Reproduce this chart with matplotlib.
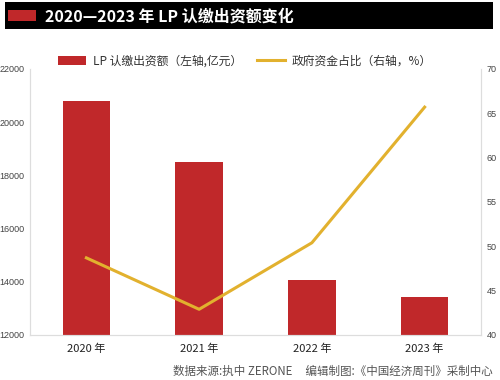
import matplotlib
matplotlib.use("Agg")
import matplotlib.pyplot as plt
from matplotlib.patches import Rectangle
from matplotlib.lines import Line2D

plt.rcParams['font.family'] = ['Noto Sans CJK SC', 'DejaVu Sans']

years = ["2020 年", "2021 年", "2022 年", "2023 年"]
lp_amount = [20800, 18520, 14070, 13440]
gov_share = [48.7, 42.9, 50.4, 65.7]
left_ticks = [12000, 14000, 16000, 18000, 20000, 22000]
right_ticks = [40, 45, 50, 55, 60, 65, 70]

RED = "#c0282a"
GOLD = "#e2b12e"
W, H = 500, 380
TICKFONT = ['Liberation Sans Narrow', 'Liberation Sans', 'DejaVu Sans']

fig = plt.figure(figsize=(5, 3.8), dpi=100)

# Title bar
fig.patches.append(Rectangle((5 / W, 1 - 29 / H), 488 / W, 27 / H, transform=fig.transFigure,
                             facecolor="black", edgecolor="none"))
fig.patches.append(Rectangle((8 / W, 1 - 21 / H), 28 / W, 11 / H, transform=fig.transFigure,
                             facecolor=RED, edgecolor="none"))
fig.text(45 / W, 1 - 16 / H, "2020—2023 年 LP 认缴出资额变化", color="white",
         fontsize=11.5, fontweight="bold", va="center", ha="left")

ax = fig.add_axes([30 / W, 1 - 335 / H, 451 / W, 266 / H])
x = list(range(len(years)))
ax.bar(x, lp_amount, width=0.42, color=RED, zorder=2)
ax.set_ylim(12000, 22000)
ax.set_xlim(-0.5, 3.5)
ax.set_yticks(left_ticks)
ax.set_yticklabels([str(v) for v in left_ticks], fontsize=6.5, color="#444444", family=TICKFONT)
ax.set_xticks(x)
ax.set_xticklabels(years, fontsize=8, color="#222222")
ax.tick_params(axis="both", length=0)
ax.tick_params(axis="y", pad=4)
ax.tick_params(axis="x", pad=6)
ax.spines["top"].set_visible(False)
for s in ["left", "bottom", "right"]:
    ax.spines[s].set_color("#dddddd")
    ax.spines[s].set_linewidth(0.8)

ax2 = ax.twinx()
ax2.plot(x, gov_share, color=GOLD, lw=2.2, zorder=3)
ax2.set_ylim(40, 70)
ax2.set_yticks(right_ticks)
ax2.set_yticklabels([str(v) for v in right_ticks], fontsize=6.5, color="#444444", family=TICKFONT)
ax2.tick_params(axis="y", length=0, pad=4)
ax2.spines["top"].set_visible(False)
for s in ["left", "bottom", "right"]:
    ax2.spines[s].set_color("#dddddd")
    ax2.spines[s].set_linewidth(0.8)

handles = [Rectangle((0, 0), 1, 1, facecolor=RED),
           Line2D([0], [0], color=GOLD, lw=2.2)]
labels = ["LP 认缴出资额（左轴,亿元）", "政府资金占比（右轴，%）"]
fig.legend(handles, labels, loc="center", bbox_to_anchor=(245 / W, 1 - 61 / H),
           ncol=2, frameon=False, fontsize=8.5, handlelength=2.4, handleheight=0.8,
           handletextpad=0.6, columnspacing=1.2, labelcolor="#333333")

fig.text(493 / W, 1 - 371 / H, "数据来源:执中 ZERONE     编辑制图:《中国经济周刊》采制中心",
         fontsize=8.3, color="#555555", ha="right", va="center")

fig.savefig("out.png", dpi=100)
